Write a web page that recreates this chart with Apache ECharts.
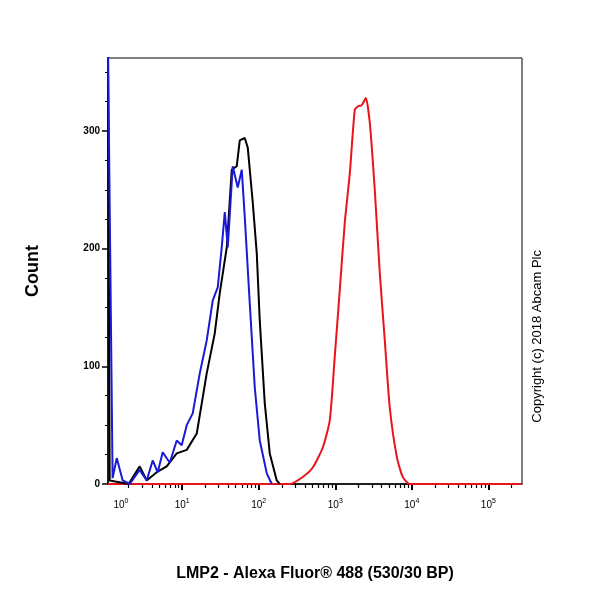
<!DOCTYPE html>
<html><head><meta charset="utf-8">
<script src="https://cdn.jsdelivr.net/npm/echarts@6/dist/echarts.min.js"></script>
<style>html,body{margin:0;padding:0;background:#fff}#c{width:600px;height:600px}</style>
</head><body><div id="c"></div>
<script>
// x values are display positions in decades (logicle-like scale), y is count
const blackX = [0.03,0.052,0.30,0.444,0.536,0.667,0.797,0.928,1.059,1.190,1.320,1.425,1.490,1.582,1.647,1.712,1.752,1.817,1.856,1.922,1.974,2.013,2.078,2.144,2.235,2.275];
const blackY = [370,3,0,15,3,10,15,26,29,43,94,128,162,201,267,270,292,294,286,239,196,139,69,26,3,0];
const blueX = [0.03,0.09,0.144,0.222,0.314,0.444,0.536,0.614,0.680,0.745,0.837,0.928,0.993,1.059,1.137,1.229,1.320,1.399,1.464,1.516,1.556,1.595,1.660,1.725,1.778,1.817,1.882,1.948,2.013,2.105,2.170];
const blueY = [370,5,22,3,0,12,3,20,10,27,18,37,33,50,60,94,122,156,167,201,231,201,270,252,267,227,154,82,37,9,0];
const redX = [0.03,2.30,2.405,2.575,2.706,2.837,2.928,2.993,3.059,3.124,3.190,3.255,3.300,3.346,3.399,3.451,3.516,3.582,3.647,3.712,3.804,3.882,3.974,5.44];
const redY = [0,0,0,6,14,31,54,108,165,222,264,318,321,322,328,307,250,179,122,65,23,6,0,0];
const yTicks = [0,100,200,300];
const xDecades = [0,1,2,3,4,5];

const minorX = [];
for (let d = 0; d < 6; d++) for (let k = 2; k < 10; k++) { const v = d + Math.log10(k); if (v > 0.03 && v < 5.44) minorX.push(v); }
const minorY = [];
for (let v = 25; v < 362; v += 25) if (v % 100) minorY.push(v);
const pair = (xs, ys) => xs.map((x, i) => [x, ys[i]]);
const labelPos = xDecades.map(d => d === 0 ? 0.2 : d);

const chart = echarts.init(document.getElementById('c'));
chart.setOption({
  animation: false,
  grid: { left: 108, right: 78, top: 58, bottom: 116, show: true, borderColor: '#000', borderWidth: 1 },
  xAxis: [{
    type: 'value', min: 0.03, max: 5.44, position: 'bottom',
    axisLine: { lineStyle: { color: '#000', width: 1.5 } },
    axisTick: { customValues: xDecades.filter(d => d > 0), length: 6, lineStyle: { color: '#000', width: 2 } },
    axisLabel: { customValues: labelPos, margin: 14, color: '#000',
      formatter: v => '{b|10}{s|' + Math.round(v) + '}',
      rich: { b: { fontSize: 10, fontFamily: 'Arial, Liberation Sans' }, s: { fontSize: 7, padding: [0,0,8,0], fontFamily: 'Liberation Sans' } } },
    splitLine: { show: false },
    name: 'LMP2 - Alexa Fluor® 488 (530/30 BP)', nameLocation: 'middle', nameGap: 82,
    nameTextStyle: { fontSize: 16, fontWeight: 'bold', color: '#000', fontFamily: 'Liberation Sans' }
  }, {
    type: 'value', min: 0.03, max: 5.44, position: 'bottom',
    axisLine: { show: false },
    axisTick: { customValues: minorX, length: 4, lineStyle: { color: '#000', width: 1.2 } },
    axisLabel: { show: false }, splitLine: { show: false }
  }],
  yAxis: [{
    type: 'value', min: 0, max: 362, position: 'left',
    axisLine: { show: true, lineStyle: { color: '#000', width: 1.5 } },
    axisTick: { customValues: yTicks, length: 6, lineStyle: { color: '#000', width: 1.5 } },
    axisLabel: { customValues: yTicks, color: '#000', fontSize: 10, fontWeight: 'bold', margin: 8, fontFamily: 'Liberation Sans' },
    splitLine: { show: false },
    name: 'Count', nameLocation: 'middle', nameGap: 66,
    nameTextStyle: { fontSize: 18, fontWeight: 'bold', color: '#000', fontFamily: 'Liberation Sans' }
  }, {
    type: 'value', min: 0, max: 362, position: 'left',
    axisLine: { show: false },
    axisTick: { customValues: minorY, length: 3, lineStyle: { color: '#000', width: 1 } },
    axisLabel: { show: false }, splitLine: { show: false }
  }],
  graphic: [{ type: 'text', left: 531, top: 250, rotation: Math.PI/2,
    style: { text: 'Copyright (c) 2018 Abcam Plc', fontSize: 13, fill: '#000', fontFamily: 'Liberation Sans' } }],
  series: [
    { type: 'line', data: pair(redX, redY), showSymbol: false, smooth: 0.2, lineStyle: { color: '#e8141b', width: 2 }, z: 3 },
    { type: 'line', data: pair(blackX, blackY), showSymbol: false, lineStyle: { color: '#000', width: 2 }, z: 4 },
    { type: 'line', data: pair(blueX, blueY), showSymbol: false, lineStyle: { color: '#1a1ad6', width: 2 }, z: 5 }
  ]
});
</script></body></html>
